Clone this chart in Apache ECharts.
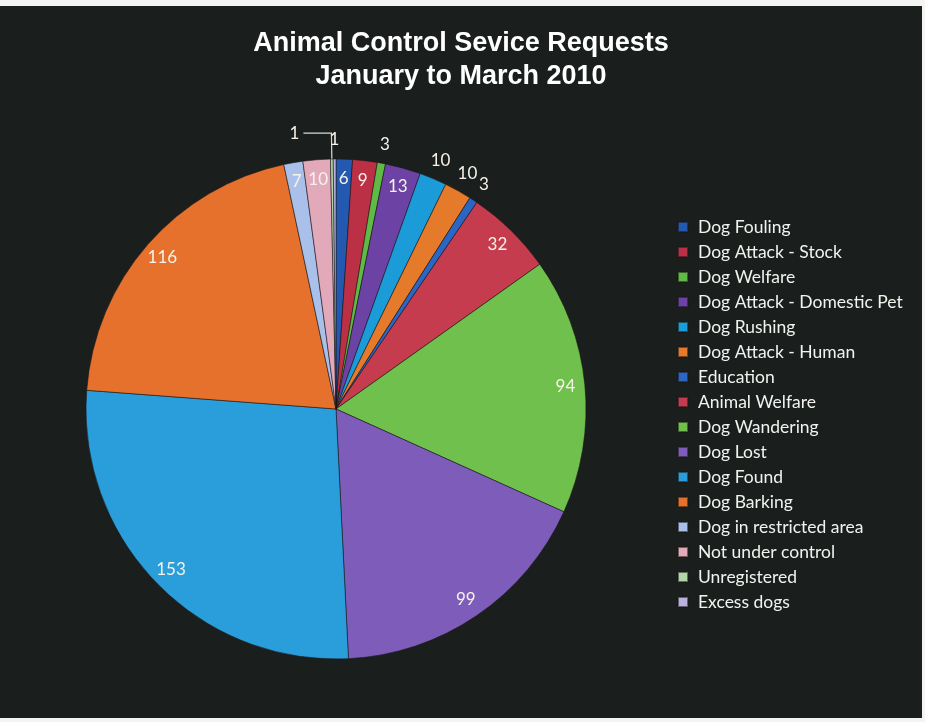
<!DOCTYPE html>
<html>
<head>
<meta charset="utf-8">
<script src="https://cdn.jsdelivr.net/npm/echarts@6/dist/echarts.min.js"></script>
<style>
  html, body { margin: 0; padding: 0; background: #f4f4f2; }
  #chart { position: absolute; left: 0; top: 6px; width: 922px; height: 712px; background: #1a1f1d; }
</style>
</head>
<body>
<div id="chart"></div>
<script>
// Service request categories, in legend order (clockwise from 12 o'clock)
const categories = [
  'Dog Fouling', 'Dog Attack - Stock', 'Dog Welfare', 'Dog Attack - Domestic Pet',
  'Dog Rushing', 'Dog Attack - Human', 'Education', 'Animal Welfare',
  'Dog Wandering', 'Dog Lost', 'Dog Found', 'Dog Barking',
  'Dog in restricted area', 'Not under control', 'Unregistered', 'Excess dogs'
];
// Number of requests, January to March 2010
const requests = [6, 9, 3, 13, 10, 10, 3, 32, 94, 99, 153, 116, 7, 10, 1, 1];

const sliceColors = [
  '#2459b2', '#bb3045', '#5fbb46', '#6c43a4',
  '#1c9bd9', '#e67a2b', '#2c66c4', '#c53c4e',
  '#70c04d', '#7e5cba', '#2a9edb', '#e5712c',
  '#a9c0ea', '#e2a9bb', '#b3d6a8', '#b8b2dc'
];

// Slices whose values sit just outside the rim
const rimLabelled = ['Dog Welfare', 'Dog Rushing', 'Dog Attack - Human', 'Education', 'Excess dogs'];
// Slice whose value hangs on a leader line
const leaderLabelled = ['Unregistered'];

const labelFont = { color: '#f6f2ea', fontFamily: 'Lato', fontSize: 17 };
const CENTER = [336, 403];
const R = 250;

const chart = echarts.init(document.getElementById('chart'));

const mainData = categories.map((name, i) => ({
  name,
  value: requests[i],
  itemStyle: { color: sliceColors[i] },
  label: { show: leaderLabelled.includes(name) },
  labelLine: { show: leaderLabelled.includes(name) }
}));

const innerData = categories.map((name, i) => ({
  name,
  value: requests[i],
  label: { show: !rimLabelled.includes(name) && !leaderLabelled.includes(name) }
}));

const rimData = categories.map((name, i) => ({
  name,
  value: requests[i],
  label: { show: rimLabelled.includes(name) }
}));

const overlayBase = {
  type: 'pie',
  center: CENTER,
  startAngle: 90,
  clockwise: true,
  silent: true,
  legendHoverLink: false,
  animation: false,
  avoidLabelOverlap: false,
  itemStyle: { color: 'rgba(0,0,0,0)', borderWidth: 0 },
  labelLine: { show: false },
  emphasis: { disabled: true }
};

chart.setOption({
  backgroundColor: '#1a1f1d',
  animation: false,
  title: {
    text: 'Animal Control Sevice Requests\nJanuary to March 2010',
    left: 'center',
    top: 16,
    textStyle: {
      color: '#ffffff',
      fontFamily: 'Liberation Sans',
      fontWeight: 'bold',
      fontSize: 27,
      lineHeight: 33
    }
  },
  legend: {
    orient: 'vertical',
    left: 672,
    top: 207,
    data: categories,
    icon: 'rect',
    itemWidth: 10,
    itemHeight: 10,
    itemGap: 7,
    selectedMode: false,
    textStyle: { color: '#f2f2ee', fontFamily: 'Lato', fontSize: 17.5, padding: [0, 0, 0, 5] }
  },
  series: [
    {
      name: 'Requests',
      type: 'pie',
      center: CENTER,
      radius: R,
      startAngle: 90,
      clockwise: true,
      avoidLabelOverlap: false,
      data: mainData,
      itemStyle: { borderColor: 'rgba(25,20,20,0.55)', borderWidth: 1 },
      label: Object.assign({ position: 'outside', formatter: '{c}', distanceToLabelLine: 4 }, labelFont),
      labelLine: { length: 26, length2: 28, lineStyle: { color: '#d9d9d9', width: 1.2 } },
      emphasis: { disabled: true }
    },
    Object.assign({}, overlayBase, {
      name: 'inner-labels',
      radius: [R * 0.84, R * 0.98],
      data: innerData,
      label: Object.assign({ position: 'inside', formatter: '{c}' }, labelFont)
    }),
    Object.assign({}, overlayBase, {
      name: 'rim-labels',
      radius: [R * 1.0, R * 1.13],
      data: rimData,
      label: Object.assign({ position: 'inside', formatter: '{c}' }, labelFont)
    })
  ]
});
</script>
</body>
</html>
